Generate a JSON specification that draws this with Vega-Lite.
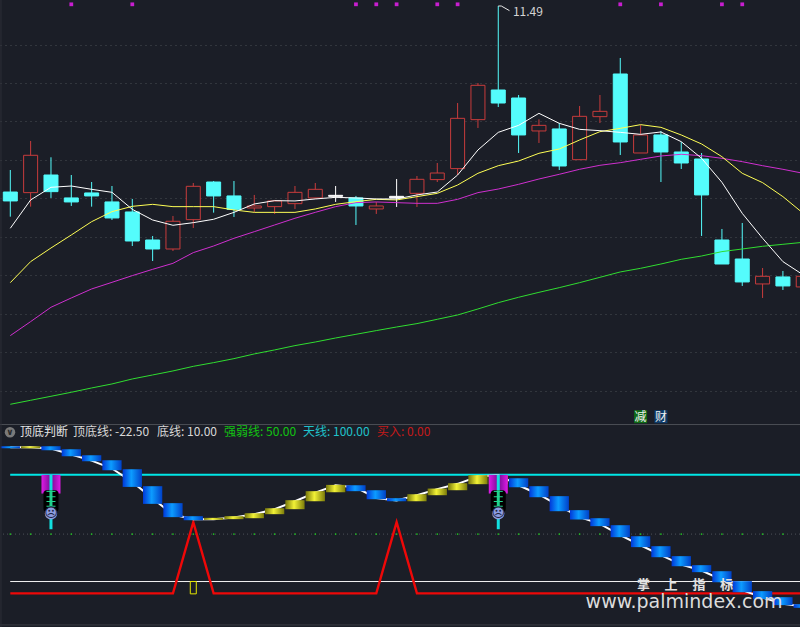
{
"$schema":"https://vega.github.io/schema/vega-lite/v6.json",
"padding":0,"spacing":0,"background":"#1b1e27",
"config":{"view":{"stroke":null},"concat":{"spacing":0}},
"datasets":{
"price":[
{"i":0,"high":9.370,"top":9.084,"bottom":8.968,"low":8.764,"dir":"down","ma5":8.613,"ma10":7.907,"ma20":7.219,"ma120":6.327},
{"i":1,"high":9.747,"top":9.561,"bottom":9.076,"low":8.894,"dir":"up","ma5":8.981,"ma10":8.180,"ma20":7.401,"ma120":6.379},
{"i":2,"high":9.535,"top":9.305,"bottom":9.089,"low":9.007,"dir":"down","ma5":9.145,"ma10":8.357,"ma20":7.587,"ma120":6.431},
{"i":3,"high":9.305,"top":9.007,"bottom":8.955,"low":8.903,"dir":"down","ma5":9.162,"ma10":8.526,"ma20":7.708,"ma120":6.483},
{"i":4,"high":9.214,"top":9.072,"bottom":9.033,"low":8.894,"dir":"down","ma5":9.119,"ma10":8.699,"ma20":7.825,"ma120":6.539},
{"i":5,"high":9.162,"top":8.955,"bottom":8.747,"low":8.721,"dir":"down","ma5":9.080,"ma10":8.829,"ma20":7.911,"ma120":6.591},
{"i":6,"high":8.994,"top":8.825,"bottom":8.448,"low":8.383,"dir":"down","ma5":8.859,"ma10":8.898,"ma20":7.998,"ma120":6.656},
{"i":7,"high":8.513,"top":8.461,"bottom":8.344,"low":8.188,"dir":"down","ma5":8.721,"ma10":8.924,"ma20":8.080,"ma120":6.708},
{"i":8,"high":8.773,"top":8.704,"bottom":8.344,"low":8.318,"dir":"up","ma5":8.652,"ma10":8.894,"ma20":8.158,"ma120":6.760},
{"i":9,"high":9.201,"top":9.158,"bottom":8.725,"low":8.617,"dir":"up","ma5":8.686,"ma10":8.894,"ma20":8.297,"ma120":6.820},
{"i":10,"high":9.227,"top":9.214,"bottom":9.033,"low":8.816,"dir":"down","ma5":8.730,"ma10":8.894,"ma20":8.383,"ma120":6.868},
{"i":11,"high":9.227,"top":9.033,"bottom":8.859,"low":8.760,"dir":"down","ma5":8.820,"ma10":8.851,"ma20":8.483,"ma120":6.920},
{"i":12,"high":9.046,"top":8.903,"bottom":8.877,"low":8.825,"dir":"up","ma5":8.929,"ma10":8.820,"ma20":8.569,"ma120":6.981},
{"i":13,"high":8.981,"top":8.968,"bottom":8.894,"low":8.799,"dir":"up","ma5":8.972,"ma10":8.820,"ma20":8.656,"ma120":7.033},
{"i":14,"high":9.162,"top":9.080,"bottom":8.933,"low":8.864,"dir":"up","ma5":8.968,"ma10":8.820,"ma20":8.743,"ma120":7.089},
{"i":15,"high":9.201,"top":9.119,"bottom":9.007,"low":8.994,"dir":"up","ma5":8.994,"ma10":8.864,"ma20":8.820,"ma120":7.136},
{"i":16,"high":9.162,"top":9.041,"bottom":9.028,"low":8.955,"dir":"flat","ma5":9.015,"ma10":8.924,"ma20":8.894,"ma120":7.188},
{"i":17,"high":9.033,"top":9.007,"bottom":8.903,"low":8.656,"dir":"down","ma5":9.007,"ma10":8.959,"ma20":8.946,"ma120":7.236},
{"i":18,"high":8.955,"top":8.903,"bottom":8.864,"low":8.799,"dir":"up","ma5":8.994,"ma10":8.989,"ma20":8.955,"ma120":7.284},
{"i":19,"high":9.253,"top":9.028,"bottom":9.007,"low":8.890,"dir":"flat","ma5":8.994,"ma10":8.981,"ma20":8.946,"ma120":7.331},
{"i":20,"high":9.292,"top":9.249,"bottom":9.067,"low":8.890,"dir":"up","ma5":9.046,"ma10":9.024,"ma20":8.937,"ma120":7.375},
{"i":21,"high":9.461,"top":9.331,"bottom":9.245,"low":9.214,"dir":"up","ma5":9.084,"ma10":9.067,"ma20":8.937,"ma120":7.431},
{"i":22,"high":10.240,"top":10.041,"bottom":9.388,"low":9.305,"dir":"up","ma5":9.305,"ma10":9.175,"ma20":8.989,"ma120":7.487},
{"i":23,"high":10.500,"top":10.470,"bottom":10.024,"low":9.916,"dir":"up","ma5":9.630,"ma10":9.327,"ma20":9.076,"ma120":7.565},
{"i":24,"high":11.500,"top":10.409,"bottom":10.240,"low":10.188,"dir":"down","ma5":9.859,"ma10":9.426,"ma20":9.123,"ma120":7.647},
{"i":25,"high":10.344,"top":10.305,"bottom":9.825,"low":9.591,"dir":"down","ma5":9.950,"ma10":9.487,"ma20":9.184,"ma120":7.717},
{"i":26,"high":10.028,"top":9.950,"bottom":9.877,"low":9.721,"dir":"up","ma5":10.106,"ma10":9.587,"ma20":9.253,"ma120":7.781},
{"i":27,"high":9.981,"top":9.903,"bottom":9.422,"low":9.370,"dir":"down","ma5":9.976,"ma10":9.643,"ma20":9.314,"ma120":7.842},
{"i":28,"high":10.201,"top":10.067,"bottom":9.504,"low":9.504,"dir":"up","ma5":9.898,"ma10":9.760,"ma20":9.379,"ma120":7.907},
{"i":29,"high":10.344,"top":10.132,"bottom":10.063,"low":9.981,"dir":"up","ma5":9.881,"ma10":9.868,"ma20":9.431,"ma120":7.976},
{"i":30,"high":10.825,"top":10.617,"bottom":9.734,"low":9.565,"dir":"down","ma5":9.859,"ma10":9.911,"ma20":9.465,"ma120":8.046},
{"i":31,"high":9.955,"top":9.825,"bottom":9.591,"low":9.591,"dir":"up","ma5":9.833,"ma10":9.959,"ma20":9.509,"ma120":8.093},
{"i":32,"high":9.877,"top":9.825,"bottom":9.604,"low":9.214,"dir":"down","ma5":9.864,"ma10":9.924,"ma20":9.552,"ma120":8.149},
{"i":33,"high":9.734,"top":9.604,"bottom":9.461,"low":9.383,"dir":"down","ma5":9.738,"ma10":9.825,"ma20":9.574,"ma120":8.210},
{"i":34,"high":9.591,"top":9.513,"bottom":9.046,"low":8.513,"dir":"down","ma5":9.522,"ma10":9.708,"ma20":9.556,"ma120":8.253},
{"i":35,"high":8.604,"top":8.461,"bottom":8.149,"low":8.149,"dir":"down","ma5":9.210,"ma10":9.543,"ma20":9.522,"ma120":8.310},
{"i":36,"high":8.682,"top":8.214,"bottom":7.916,"low":7.864,"dir":"down","ma5":8.807,"ma10":9.327,"ma20":9.478,"ma120":8.344},
{"i":37,"high":8.097,"top":7.989,"bottom":7.890,"low":7.708,"dir":"up","ma5":8.483,"ma10":9.206,"ma20":9.426,"ma120":8.379},
{"i":38,"high":8.059,"top":7.981,"bottom":7.864,"low":7.812,"dir":"down","ma5":8.180,"ma10":9.024,"ma20":9.379,"ma120":8.405},
{"i":39,"high":8.072,"top":7.989,"bottom":7.851,"low":7.812,"dir":"up","ma5":8.007,"ma10":8.807,"ma20":9.327,"ma120":8.431}
],
"marks":[{"i":3},{"i":6},{"i":17},{"i":18},{"i":19},{"i":21},{"i":22},{"i":30},{"i":32},{"i":35},{"i":36}],
"flag":[{"i":24,"p":11.5},{"i":24.15,"p":11.5},{"i":24.55,"p":11.44}],
"tagGreen":[{"i":31,"text":"减","p":6.166}],
"tagBlue":[{"i":32,"text":"财","p":6.166}],
"ind":[
{"i":0,"top":124.1,"bottom":122.4,"kind":"blue","line":123.3,"buy":0},
{"i":1,"top":124.1,"bottom":122.4,"kind":"yellow","line":123.3,"buy":0},
{"i":2,"top":124.1,"bottom":120.7,"kind":"blue","line":122.1,"buy":0},
{"i":3,"top":121.6,"bottom":115.7,"kind":"blue","line":117.1,"buy":0},
{"i":4,"top":116.5,"bottom":111.5,"kind":"blue","line":112.0,"buy":0},
{"i":5,"top":112.3,"bottom":103.9,"kind":"blue","line":105.3,"buy":0},
{"i":6,"top":104.7,"bottom":89.8,"kind":"blue","line":94.0,"buy":0},
{"i":7,"top":90.4,"bottom":75.5,"kind":"blue","line":80.0,"buy":0},
{"i":8,"top":76.1,"bottom":64.3,"kind":"blue","line":66.5,"buy":0},
{"i":9,"top":65.1,"bottom":61.7,"kind":"blue","line":62.6,"buy":60},
{"i":10,"top":63.7,"bottom":62.0,"kind":"yellow","line":62.6,"buy":0},
{"i":11,"top":65.1,"bottom":62.6,"kind":"yellow","line":64.0,"buy":0},
{"i":12,"top":67.6,"bottom":63.4,"kind":"yellow","line":66.8,"buy":0},
{"i":13,"top":71.8,"bottom":66.8,"kind":"yellow","line":71.0,"buy":0},
{"i":14,"top":78.6,"bottom":71.0,"kind":"yellow","line":77.7,"buy":0},
{"i":15,"top":86.2,"bottom":77.7,"kind":"yellow","line":85.0,"buy":0},
{"i":16,"top":91.5,"bottom":85.3,"kind":"yellow","line":91.2,"buy":0},
{"i":17,"top":91.2,"bottom":86.2,"kind":"blue","line":89.3,"buy":0},
{"i":18,"top":87.0,"bottom":79.4,"kind":"blue","line":80.5,"buy":0},
{"i":19,"top":80.3,"bottom":77.7,"kind":"blue","line":78.3,"buy":60},
{"i":20,"top":83.6,"bottom":77.7,"kind":"yellow","line":82.8,"buy":0},
{"i":21,"top":88.4,"bottom":82.8,"kind":"yellow","line":87.9,"buy":0},
{"i":22,"top":92.9,"bottom":87.0,"kind":"yellow","line":92.4,"buy":0},
{"i":23,"top":99.7,"bottom":92.1,"kind":"yellow","line":98.5,"buy":0},
{"i":24,"top":99.7,"bottom":92.1,"kind":"yellow","line":99.7,"buy":0},
{"i":25,"top":97.1,"bottom":89.5,"kind":"blue","line":91.2,"buy":0},
{"i":26,"top":90.4,"bottom":81.1,"kind":"blue","line":83.4,"buy":0},
{"i":27,"top":82.0,"bottom":69.3,"kind":"blue","line":73.8,"buy":0},
{"i":28,"top":70.2,"bottom":62.3,"kind":"blue","line":64.3,"buy":0},
{"i":29,"top":63.4,"bottom":56.7,"kind":"blue","line":58.6,"buy":0},
{"i":30,"top":57.5,"bottom":47.4,"kind":"blue","line":49.1,"buy":0},
{"i":31,"top":48.2,"bottom":39.0,"kind":"blue","line":40.6,"buy":0},
{"i":32,"top":39.8,"bottom":30.5,"kind":"blue","line":32.2,"buy":0},
{"i":33,"top":31.4,"bottom":22.9,"kind":"blue","line":24.3,"buy":0},
{"i":34,"top":23.8,"bottom":17.9,"kind":"blue","line":19.3,"buy":0},
{"i":35,"top":18.7,"bottom":9.4,"kind":"blue","line":11.4,"buy":0},
{"i":36,"top":10.3,"bottom":1.0,"kind":"blue","line":2.7,"buy":0},
{"i":37,"top":1.9,"bottom":-4.9,"kind":"blue","line":-3.5,"buy":0},
{"i":38,"top":-3.2,"bottom":-9.9,"kind":"blue","line":-8.8,"buy":0},
{"i":39,"top":-9.1,"bottom":-12.2,"kind":"blue","line":-11.1,"buy":0}
],
"levels":[
{"level":50,"from":-0.36,"to":38.84,"name":"strength"},
{"level":10,"from":-0.005,"to":38.84,"name":"floor"},
{"level":100,"from":-0.005,"to":38.84,"name":"sky"},
{"level":142.4,"from":-0.507,"to":38.84,"name":"sep"},
{"level":-26.6,"from":-0.507,"to":38.84,"name":"end"}
],
"edge":[{"at":-0.46}],
"signal":[
{"i":2,"top":100,"purpleEnd":84.2,"stickEnd":54.1,"blackTop":87,"blackEnd":68.7,"greenEnd":73,"face":67.4},
{"i":24,"top":100,"purpleEnd":84.2,"stickEnd":54.1,"blackTop":87,"blackEnd":68.7,"greenEnd":73,"face":67.4}
],
"stripes":[
{"i":2,"v":86},{"i":2,"v":81.5},{"i":2,"v":77.5},{"i":2,"v":73.5},
{"i":24,"v":86},{"i":24,"v":81.5},{"i":24,"v":77.5},{"i":24,"v":73.5}
],
"header":[
{"i":0.477,"v":135.9,"text":"顶底判断","color":"#e4e4e4"},
{"i":3.084,"v":135.9,"text":"顶底线: -22.50","color":"#d8d8d8"},
{"i":7.216,"v":135.9,"text":"底线: 10.00","color":"#d8d8d8"},
{"i":10.512,"v":135.9,"text":"强弱线: 50.00","color":"#12c412"},
{"i":14.397,"v":135.9,"text":"天线: 100.00","color":"#1fc3cc"},
{"i":18.036,"v":135.9,"text":"买入: 0.00","color":"#c41a1a"}
],
"logo":[
{"i":31.14,"v":7.3,"text":"掌"},{"i":32.5,"v":7.3,"text":"上"},{"i":33.87,"v":7.3,"text":"指"},{"i":35.23,"v":7.3,"text":"标"}
],
"site":[{"i":33.14,"v":-7.2,"text":"www.palmindex.com"}],
"note":[{"i":24.72,"p":11.42,"text":"11.49"}],
"box":[{"i":9,"top":10,"bottom":-0.4}],
"icon":[{"i":-0.015,"v":135.9,"text":"∨"}]
},
"vconcat":[
{"width":800,"height":424,
"encoding":{"x":{"field":"i","type":"quantitative","scale":{"domain":[-0.507,38.84],"nice":false,"zero":false,"padding":0},"axis":null}},
"layer":[
{"data":{"name":"price"},"mark":{"type":"rule","strokeWidth":1,"clip":true},
"encoding":{
"y":{"field":"high","type":"quantitative","scale":{"domain":[6.071,11.578],"nice":false,"zero":false},"axis":{"grid":true,"labels":false,"ticks":false,"domain":false,"title":null,"values":[6.5,7,7.5,8,8.5,9,9.5,10,10.5,11],"gridColor":"#4a4e55","gridDash":[1,4],"gridWidth":1}},
"y2":{"field":"low"},
"color":{"field":"dir","type":"nominal","scale":{"domain":["up","down","flat"],"range":["#c83c3c","#54fcfc","#ffffff"]},"legend":null}}},
{"data":{"name":"price"},"mark":{"type":"bar","orient":"vertical","width":14,"strokeWidth":1,"clip":true},
"encoding":{
"y":{"field":"top","type":"quantitative"},"y2":{"field":"bottom"},
"stroke":{"field":"dir","type":"nominal","scale":{"domain":["up","down","flat"],"range":["#c83c3c","#54fcfc","#ffffff"]},"legend":null},
"fill":{"field":"dir","type":"nominal","scale":{"domain":["up","down","flat"],"range":["#1b1e27","#54fcfc","#ffffff"]},"legend":null}}},
{"data":{"name":"price"},"mark":{"type":"line","color":"#30dd30","strokeWidth":1,"clip":true},"encoding":{"y":{"field":"ma120","type":"quantitative"}}},
{"data":{"name":"price"},"mark":{"type":"line","color":"#cf2fcf","strokeWidth":1,"clip":true},"encoding":{"y":{"field":"ma20","type":"quantitative"}}},
{"data":{"name":"price"},"mark":{"type":"line","color":"#ffff55","strokeWidth":1,"clip":true},"encoding":{"y":{"field":"ma10","type":"quantitative"}}},
{"data":{"name":"price"},"mark":{"type":"line","color":"#ffffff","strokeWidth":1,"clip":true},"encoding":{"y":{"field":"ma5","type":"quantitative"}}},
{"data":{"name":"marks"},"mark":{"type":"square","filled":true,"color":"#c81ed0","size":14,"opacity":1},"encoding":{"y":{"datum":11.522,"type":"quantitative"}}},
{"data":{"name":"flag"},"mark":{"type":"line","color":"#e8e8e8","strokeWidth":1},"encoding":{"y":{"field":"p","type":"quantitative"}}},
{"data":{"name":"note"},"mark":{"type":"text","align":"left","baseline":"middle","font":"Noto Sans CJK SC","fontSize":12,"color":"#d4d4d4"},"encoding":{"y":{"field":"p","type":"quantitative"},"text":{"field":"text"}}},
{"data":{"name":"tagGreen"},"mark":{"type":"square","filled":true,"size":170,"opacity":1,"color":"#0f6a16"},"encoding":{"y":{"field":"p","type":"quantitative"}}},
{"data":{"name":"tagBlue"},"mark":{"type":"square","filled":true,"size":170,"opacity":1,"color":"#0d3a68"},"encoding":{"y":{"field":"p","type":"quantitative"}}},
{"data":{"name":"tagGreen"},"mark":{"type":"text","font":"Noto Sans CJK SC","fontSize":12,"color":"#f0f0f0","baseline":"middle"},"encoding":{"y":{"field":"p","type":"quantitative"},"text":{"field":"text"}}},
{"data":{"name":"tagBlue"},"mark":{"type":"text","font":"Noto Sans CJK SC","fontSize":12,"color":"#f0f0f0","baseline":"middle"},"encoding":{"y":{"field":"p","type":"quantitative"},"text":{"field":"text"}}},
{"data":{"name":"edge"},"mark":{"type":"rule","color":"#2c2f37","strokeWidth":1,"clip":true},"encoding":{"x":{"field":"at","type":"quantitative"}}}
]},
{"width":800,"height":203,
"encoding":{"x":{"field":"i","type":"quantitative","scale":{"domain":[-0.507,38.84],"nice":false,"zero":false,"padding":0},"axis":null}},
"layer":[
{"data":{"name":"levels"},"transform":[{"filter":"datum.name=='strength'"}],"mark":{"type":"rule","color":"#4e5259","strokeWidth":1,"strokeDash":[1,3],"clip":true},"encoding":{"x":{"field":"from","type":"quantitative"},"x2":{"field":"to"},"y":{"field":"level","type":"quantitative","scale":{"domain":[-28.35,142.85],"nice":false,"zero":false},"axis":null}}},
{"data":{"name":"ind"},"mark":{"type":"point","filled":true,"color":"#22c022","size":3,"opacity":1,"clip":true},"encoding":{"y":{"datum":50,"type":"quantitative"}}},
{"data":{"name":"levels"},"transform":[{"filter":"datum.name=='floor'"}],"mark":{"type":"rule","color":"#f2f2f2","strokeWidth":1,"clip":true},"encoding":{"x":{"field":"from","type":"quantitative"},"x2":{"field":"to"},"y":{"field":"level","type":"quantitative"}}},
{"data":{"name":"levels"},"transform":[{"filter":"datum.name=='sky'"}],"mark":{"type":"rule","color":"#00e6e6","strokeWidth":2,"clip":true},"encoding":{"x":{"field":"from","type":"quantitative"},"x2":{"field":"to"},"y":{"field":"level","type":"quantitative"}}},
{"data":{"name":"ind"},"mark":{"type":"line","color":"#ee0808","strokeWidth":2.4,"clip":true},"encoding":{"y":{"field":"buy","type":"quantitative"}}},
{"data":{"name":"box"},"mark":{"type":"bar","orient":"vertical","width":6,"fill":"#1b1e27","stroke":"#e6e600","strokeWidth":1},"encoding":{"y":{"field":"top","type":"quantitative"},"y2":{"field":"bottom"}}},
{"data":{"name":"ind"},"mark":{"type":"line","color":"#ffffff","strokeWidth":2,"clip":true},"encoding":{"y":{"field":"line","type":"quantitative"}}},
{"data":{"name":"ind"},"transform":[{"filter":"datum.kind=='blue'"}],"mark":{"type":"bar","orient":"vertical","width":19.3,"clip":true,"fill":{"gradient":"linear","x1":0,"x2":1,"y1":0,"y2":0,"stops":[{"offset":0,"color":"#0038d8"},{"offset":0.45,"color":"#0c9cff"},{"offset":1,"color":"#0040c8"}]}},"encoding":{"y":{"field":"top","type":"quantitative"},"y2":{"field":"bottom"}}},
{"data":{"name":"ind"},"transform":[{"filter":"datum.kind=='yellow'"}],"mark":{"type":"bar","orient":"vertical","width":19.3,"clip":true,"fill":{"gradient":"linear","x1":0,"x2":1,"y1":0,"y2":0,"stops":[{"offset":0,"color":"#74740a"},{"offset":0.45,"color":"#f2f236"},{"offset":1,"color":"#7c7c0a"}]}},"encoding":{"y":{"field":"top","type":"quantitative"},"y2":{"field":"bottom"}}},
{"data":{"name":"logo"},"mark":{"type":"text","font":"Noto Sans CJK SC","fontSize":13,"fontWeight":"bold","color":"#e2e2e2","baseline":"middle"},"encoding":{"y":{"field":"v","type":"quantitative"},"text":{"field":"text"}}},
{"data":{"name":"site"},"mark":{"type":"text","font":"DejaVu Sans","fontSize":19,"color":"#dcdcdc","baseline":"middle"},"encoding":{"y":{"field":"v","type":"quantitative"},"text":{"field":"text"}}},
{"data":{"name":"signal"},"mark":{"type":"bar","orient":"vertical","width":19,"fill":{"gradient":"linear","x1":0,"x2":1,"y1":0,"y2":0,"stops":[{"offset":0,"color":"#e01ae6"},{"offset":0.4,"color":"#8a10a4"},{"offset":0.6,"color":"#8a10a4"},{"offset":1,"color":"#e01ae6"}]}},"encoding":{"y":{"field":"top","type":"quantitative"},"y2":{"field":"purpleEnd"}}},
{"data":{"name":"signal"},"mark":{"type":"bar","orient":"vertical","width":3,"color":"#12e0e0"},"encoding":{"y":{"field":"top","type":"quantitative"},"y2":{"field":"stickEnd"}}},
{"data":{"name":"signal"},"mark":{"type":"bar","orient":"vertical","width":15,"color":"#000000","cornerRadius":3},"encoding":{"y":{"field":"blackTop","type":"quantitative"},"y2":{"field":"blackEnd"}}},
{"data":{"name":"signal"},"mark":{"type":"bar","orient":"vertical","width":3,"color":"#1fd08c"},"encoding":{"y":{"field":"blackTop","type":"quantitative"},"y2":{"field":"greenEnd"}}},
{"data":{"name":"stripes"},"mark":{"type":"tick","orient":"horizontal","size":9,"thickness":1,"color":"#22d890","opacity":1},"encoding":{"y":{"field":"v","type":"quantitative"}}},
{"data":{"name":"signal"},"mark":{"type":"point","filled":true,"color":"#8c9ce0","size":150,"opacity":1},"encoding":{"y":{"field":"face","type":"quantitative"}}},
{"data":{"name":"signal"},"mark":{"type":"text","text":"☹","font":"DejaVu Sans","fontSize":13,"color":"#1c2440","baseline":"middle"},"encoding":{"y":{"field":"face","type":"quantitative"}}},
{"data":{"name":"icon"},"mark":{"type":"point","filled":true,"color":"#7a7a7a","size":110,"opacity":1},"encoding":{"y":{"field":"v","type":"quantitative"}}},
{"data":{"name":"icon"},"mark":{"type":"text","font":"DejaVu Sans","fontSize":9,"fontWeight":"bold","color":"#2a2a2a","baseline":"middle"},"encoding":{"y":{"field":"v","type":"quantitative"},"text":{"field":"text"}}},
{"data":{"name":"header"},"mark":{"type":"text","font":"Noto Sans CJK SC","fontSize":12,"align":"left","baseline":"middle"},"encoding":{"y":{"field":"v","type":"quantitative"},"text":{"field":"text"},"color":{"field":"color","type":"nominal","scale":null}}},
{"data":{"name":"levels"},"transform":[{"filter":"datum.name=='sep'"}],"mark":{"type":"rule","color":"#4c4e55","strokeWidth":1,"clip":true},"encoding":{"x":{"field":"from","type":"quantitative"},"x2":{"field":"to"},"y":{"field":"level","type":"quantitative"}}},
{"data":{"name":"levels"},"transform":[{"filter":"datum.name=='end'"}],"mark":{"type":"rule","color":"#3a3c43","strokeWidth":1,"clip":true},"encoding":{"x":{"field":"from","type":"quantitative"},"x2":{"field":"to"},"y":{"field":"level","type":"quantitative"}}},
{"data":{"name":"edge"},"mark":{"type":"rule","color":"#2c2f37","strokeWidth":1,"clip":true},"encoding":{"x":{"field":"at","type":"quantitative"}}}
]}
]}
